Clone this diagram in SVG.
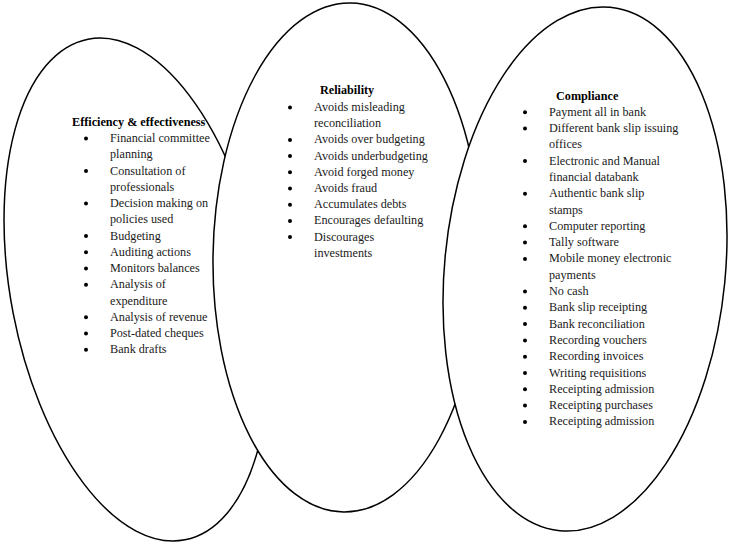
<svg xmlns="http://www.w3.org/2000/svg" width="732" height="547" viewBox="0 0 732 547">
<style>
.shape{fill:#fff;stroke:#000;stroke-width:1.5}
.t{font-family:"Liberation Serif","Times New Roman",serif;font-size:12.2px;fill:#1a1a1a}
.h{font-weight:bold;fill:#000}
.b{fill:#000}
</style>
<rect width="732" height="547" fill="#fff"/>
<g id="node-efficiency">
<ellipse class="shape" cx="136.5" cy="289.5" rx="125.6" ry="255" transform="rotate(-10.95 136.5 289.5)"/>
<text class="t h" x="72" y="126">Efficiency &amp; effectiveness</text>
<text class="t">
<tspan x="110" y="142">Financial committee</tspan>
<tspan x="110" y="158.25">planning</tspan>
<tspan x="110" y="174.5">Consultation of</tspan>
<tspan x="110" y="190.75">professionals</tspan>
<tspan x="110" y="207">Decision making on</tspan>
<tspan x="110" y="223.25">policies used</tspan>
<tspan x="110" y="239.5">Budgeting</tspan>
<tspan x="110" y="255.75">Auditing actions</tspan>
<tspan x="110" y="272">Monitors balances</tspan>
<tspan x="110" y="288.25">Analysis of</tspan>
<tspan x="110" y="304.5">expenditure</tspan>
<tspan x="110" y="320.75">Analysis of revenue</tspan>
<tspan x="110" y="337">Post-dated cheques</tspan>
<tspan x="110" y="353.25">Bank drafts</tspan>
</text>
<g class="b">
<circle cx="86" cy="138.5" r="2"/>
<circle cx="86" cy="171" r="2"/>
<circle cx="86" cy="203.5" r="2"/>
<circle cx="86" cy="236" r="2"/>
<circle cx="86" cy="252.25" r="2"/>
<circle cx="86" cy="268.5" r="2"/>
<circle cx="86" cy="284.75" r="2"/>
<circle cx="86" cy="317.25" r="2"/>
<circle cx="86" cy="333.5" r="2"/>
<circle cx="86" cy="349.75" r="2"/>
</g>
</g>
<g id="node-reliability">
<ellipse class="shape" cx="347" cy="257.5" rx="134" ry="254.5" transform="rotate(0.8 347 257.5)"/>
<text class="t h" x="320" y="94">Reliability</text>
<text class="t">
<tspan x="314" y="111">Avoids misleading</tspan>
<tspan x="314" y="127.2">reconciliation</tspan>
<tspan x="314" y="143.4">Avoids over budgeting</tspan>
<tspan x="314" y="159.6">Avoids underbudgeting</tspan>
<tspan x="314" y="175.8">Avoid forged money</tspan>
<tspan x="314" y="192">Avoids fraud</tspan>
<tspan x="314" y="208.2">Accumulates debts</tspan>
<tspan x="314" y="224.4">Encourages defaulting</tspan>
<tspan x="314" y="240.6">Discourages</tspan>
<tspan x="314" y="256.8">investments</tspan>
</text>
<g class="b">
<circle cx="290" cy="107.5" r="2"/>
<circle cx="290" cy="139.9" r="2"/>
<circle cx="290" cy="156.1" r="2"/>
<circle cx="290" cy="172.3" r="2"/>
<circle cx="290" cy="188.5" r="2"/>
<circle cx="290" cy="204.7" r="2"/>
<circle cx="290" cy="220.9" r="2"/>
<circle cx="290" cy="237.1" r="2"/>
</g>
</g>
<g id="node-compliance">
<ellipse class="shape" cx="585" cy="269" rx="140.4" ry="262.9" transform="rotate(5.5 585 269)"/>
<text class="t h" x="556" y="99.5">Compliance</text>
<text class="t">
<tspan x="549" y="115.7">Payment all in bank</tspan>
<tspan x="549" y="132">Different bank slip issuing</tspan>
<tspan x="549" y="148.3">offices</tspan>
<tspan x="549" y="164.6">Electronic and Manual</tspan>
<tspan x="549" y="180.9">financial databank</tspan>
<tspan x="549" y="197.2">Authentic bank slip</tspan>
<tspan x="549" y="213.5">stamps</tspan>
<tspan x="549" y="229.8">Computer reporting</tspan>
<tspan x="549" y="246.1">Tally software</tspan>
<tspan x="549" y="262.4">Mobile money electronic</tspan>
<tspan x="549" y="278.7">payments</tspan>
<tspan x="549" y="295">No cash</tspan>
<tspan x="549" y="311.3">Bank slip receipting</tspan>
<tspan x="549" y="327.6">Bank reconciliation</tspan>
<tspan x="549" y="343.9">Recording vouchers</tspan>
<tspan x="549" y="360.2">Recording invoices</tspan>
<tspan x="549" y="376.5">Writing requisitions</tspan>
<tspan x="549" y="392.8">Receipting admission</tspan>
<tspan x="549" y="409.1">Receipting purchases</tspan>
<tspan x="549" y="425.4">Receipting admission</tspan>
</text>
<g class="b">
<circle cx="525" cy="112.2" r="2"/>
<circle cx="525" cy="128.5" r="2"/>
<circle cx="525" cy="161.1" r="2"/>
<circle cx="525" cy="193.7" r="2"/>
<circle cx="525" cy="226.3" r="2"/>
<circle cx="525" cy="242.6" r="2"/>
<circle cx="525" cy="258.9" r="2"/>
<circle cx="525" cy="291.5" r="2"/>
<circle cx="525" cy="307.8" r="2"/>
<circle cx="525" cy="324.1" r="2"/>
<circle cx="525" cy="340.4" r="2"/>
<circle cx="525" cy="356.7" r="2"/>
<circle cx="525" cy="373" r="2"/>
<circle cx="525" cy="389.3" r="2"/>
<circle cx="525" cy="405.6" r="2"/>
<circle cx="525" cy="421.9" r="2"/>
</g>
</g>
<g id="connectors"></g>
</svg>
